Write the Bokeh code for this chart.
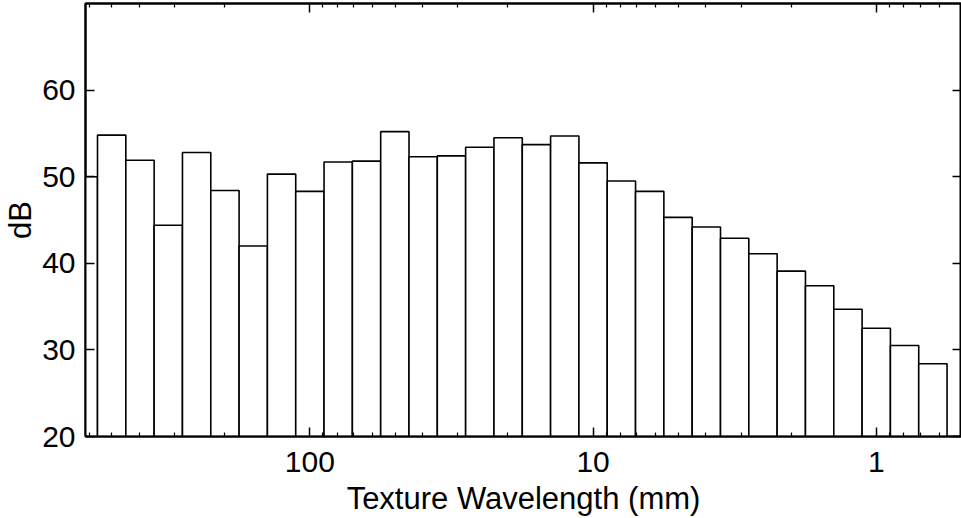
from bokeh.plotting import figure
from bokeh.models import Range1d, FixedTicker, LogAxis, LinearAxis, CustomJSTickFormatter
from bokeh.embed import file_html
from bokeh.resources import INLINE
import math

# Third-octave band centre wavelengths (mm) and levels (dB)
band_centers = [630, 500, 400, 315, 250, 200, 160, 125, 100, 80, 63, 50, 40, 31.5,
                25, 20, 16, 12.5, 10, 8, 6.3, 5, 4, 3.15, 2.5, 2, 1.6, 1.25, 1,
                0.8, 0.63]
levels_db = [50.0, 54.8, 51.9, 44.4, 52.8, 48.4, 42.0, 50.3, 48.3, 51.7, 51.8,
             55.2, 52.3, 52.4, 53.4, 54.5, 53.7, 54.7, 51.6, 49.5, 48.3, 45.3,
             44.2, 42.9, 41.1, 39.1, 37.4, 34.7, 32.5, 30.5, 28.4]
x_major_ticks = [1, 10, 100]
y_ticks = [20, 30, 40, 50, 60]

band_no = [round(10 * math.log10(c)) for c in band_centers]
lefts = [10 ** ((b + 0.5) / 10) for b in band_no]
rights = [10 ** ((b - 0.5) / 10) for b in band_no]

FONT = "Liberation Sans"

p = figure(width=961, height=518, x_axis_type="log",
           x_range=Range1d(620, 0.5), y_range=Range1d(20, 70),
           output_backend="svg", toolbar_location=None,
           min_border_left=60, min_border_right=0, min_border_top=3,
           min_border_bottom=60)

p.quad(left=lefts, right=rights, bottom=20, top=levels_db,
       fill_color="white", line_color="black", line_width=1.6)

minor = [k * 10 ** e for e in (-1, 0, 1, 2) for k in range(2, 10)]
minor = [m for m in minor if 0.5 <= m <= 620]
xticker = FixedTicker(ticks=x_major_ticks, minor_ticks=minor)
yticker = FixedTicker(ticks=y_ticks, minor_ticks=[])
fmt = CustomJSTickFormatter(code="return tick.toString();")
blank = CustomJSTickFormatter(code="return '';")

p.xgrid.visible = False
p.ygrid.visible = False
p.outline_line_color = "black"
p.outline_line_width = 2
p.outline_line_alpha = 1.0
p.background_fill_color = "white"
p.border_fill_color = "white"

bottom_axis = p.below[0]
left_axis = p.left[0]
top_axis = LogAxis(ticker=xticker, formatter=blank)
right_axis = LinearAxis(ticker=yticker, formatter=blank)
p.add_layout(top_axis, "above")
p.add_layout(right_axis, "right")

bottom_axis.ticker = xticker
bottom_axis.formatter = fmt
left_axis.ticker = yticker

for ax in [bottom_axis, left_axis, top_axis, right_axis]:
    ax.axis_line_color = "black"
    ax.axis_line_width = 2
    ax.major_tick_line_color = "black"
    ax.major_tick_line_width = 1.5
    ax.minor_tick_line_color = "black"
    ax.minor_tick_line_width = 1.2
    ax.major_tick_in = 9
    ax.major_tick_out = 0
    ax.minor_tick_in = 4
    ax.minor_tick_out = 0
    ax.major_label_text_font = FONT
    ax.major_label_text_font_size = "30px"
    ax.major_label_text_color = "black"
    ax.axis_label_text_font = FONT
    ax.axis_label_text_font_size = "31px"
    ax.axis_label_text_font_style = "normal"
    ax.axis_label_text_color = "black"

for ax in [top_axis, right_axis]:
    ax.major_label_standoff = 0

bottom_axis.axis_label = "Texture Wavelength (mm)"
bottom_axis.major_label_standoff = 15
bottom_axis.axis_label_standoff = 6
left_axis.axis_label = "dB"
left_axis.major_label_standoff = 10
left_axis.axis_label_standoff = 1

open("out.html", "w").write(file_html(p, INLINE))
